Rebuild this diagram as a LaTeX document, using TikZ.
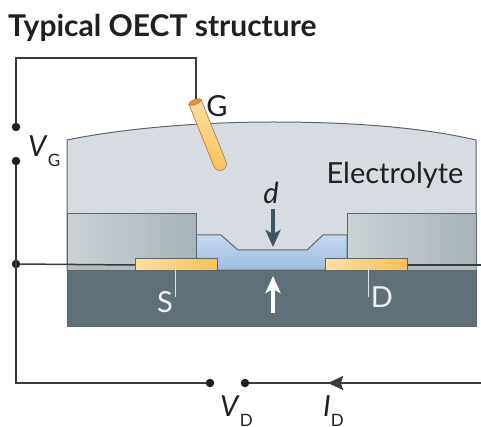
\documentclass[tikz,border=0pt]{standalone}
\usepackage{fontspec}
\setmainfont{Lato}
\usetikzlibrary{arrows.meta,calc}
\definecolor{ink}{HTML}{231f20}
\definecolor{wire}{HTML}{3a3b3d}
\definecolor{edge}{HTML}{5d666b}
\definecolor{elyte}{HTML}{d6dce2}
\definecolor{blockL}{HTML}{ccd3d7}
\definecolor{blockD}{HTML}{a7b3b9}
\definecolor{under}{HTML}{b4bbbf}
\definecolor{subst}{HTML}{5f7079}
\definecolor{chanT}{HTML}{c6d9ee}
\definecolor{chanB}{HTML}{9dbde0}
\definecolor{goldL}{HTML}{fde0a4}
\definecolor{goldD}{HTML}{fbc052}
\definecolor{goldE}{HTML}{e4924a}
\definecolor{tip}{HTML}{3f5560}
\tikzset{
  wireline/.style={draw=wire,line width=1.5pt},
  term/.style={circle,fill=ink,inner sep=0pt,minimum size=8.5pt},
  part/.style={draw=edge,line width=1pt},
  contact/.style={part,left color=goldL,right color=goldD},
  block/.style={part,shading angle=110,left color=blockL,right color=blockD},
  tick/.style={draw=white!80!subst,line width=1pt},
  lab/.style={font=\fontsize{29}{29}\selectfont,text=ink,inner sep=0pt},
  lightlab/.style={font=\fontsize{29}{29}\selectfont,text=white!90!subst,inner sep=0pt},
  bigarr/.style={-{Stealth[length=17pt,width=15pt,inset=4pt]},line width=4pt},
}
\newcommand{\sublab}[2]{\textit{#1}\raisebox{-10pt}{\fontsize{17}{17}\selectfont #2}}
\begin{document}
\begin{tikzpicture}[x=1pt,y=-1pt]
\useasboundingbox (0,0) rectangle (481,427);
\node[anchor=west,inner sep=0pt,font=\fontsize{30}{30}\selectfont\bfseries,text=ink] (title) at (8,28) {Typical OECT structure};
% layers
\draw[part,fill=elyte] (67,270) -- (67,140) .. controls (130,127) and (210,122) .. (272,122) .. controls (350,122) and (420,127) .. (476,140) -- (476,270) -- cycle;
\draw[part,top color=chanT,bottom color=chanB] (196,270) -- (196,235) -- (221,235) -- (238,250) -- (307,250) -- (323,235) -- (347,235) -- (347,270) -- cycle;
\fill[under] (67.5,264) rectangle (135,269.5);
\fill[under] (407,264) rectangle (475.5,269.5);
\draw[block] (67,264) -- (67,214) -- (196,214) -- (196,259) -- (135,259) -- (135,264) -- cycle;
\draw[block] (476,264) -- (476,214) -- (347,214) -- (347,259) -- (407,259) -- (407,264) -- cycle;
\draw[part,fill=subst] (67,270) rectangle (476,326);
% wires
\node[term] (vgA) at (16,127) {};
\node[term] (vgB) at (16,161) {};
\node[term] (mid) at (16,264) {};
\node[term] (vdA) at (210,383) {};
\node[term] (vdB) at (245,383) {};
\coordinate (corner) at (16,58);
\coordinate (rodT) at (195,102);
\coordinate (rodB) at (220,164);
\coordinate (gateIn) at (196,100);
\coordinate (outD) at (481,265);
\coordinate (outB) at (481,383);
\coordinate (srcL) at (135,265);
\coordinate (drnR) at (407,265);
\draw[wireline] (vgA) -- (corner) -| (gateIn);
\draw[wireline] (vgB) |- (vdA);
\draw[wireline] (vdB) -- (outB);
\draw[wireline] (mid) -- (srcL);
\draw[wireline] (drnR) -- (outD);
\draw[-{Stealth[length=15pt,width=14pt,inset=2pt]},line width=1.5pt,wire] (344,383) -- (328,383);
% source and drain
\draw[contact] (135,259) rectangle (217,270);
\draw[contact] (325,259) rectangle (407,270);
\draw[tick] (175.5,266) -- (175.5,297);
\draw[tick] (368,267) -- (368,297);
% gate rod
\draw[draw=goldE!70!edge,line width=0.8pt,left color=goldL,right color=goldD,shading angle=-22]
  ($(rodT)!6.5pt!90:(rodB)$) -- ($(rodB)!6.5pt!-90:(rodT)$) arc[start angle=22,end angle=-158,radius=6.5pt] -- ($(rodT)!6.5pt!-90:(rodB)$) -- cycle;
\draw[draw=goldE!70!edge,line width=0.8pt,fill=goldE,rotate around={22:(rodT)}] (rodT) ellipse (6.5pt and 2.4pt);
% thickness arrows
\draw[bigarr,tip] (273,209) -- (273,247);
\draw[bigarr,white] (273,313) -- (273,276);
% labels
\node[lab] (gLab) at (217,106) {G};
\node[lab] (dLab) at (271,193) {\textit{d}};
\node[lab] (eLab) at (395,175) {Electrolyte};
\node[lightlab] (sLab) at (165,302) {S};
\node[lightlab] (dnLab) at (382,297) {D};
\node[lab,anchor=base west] (vgLab) at (28,157) {\sublab{V}{G}};
\node[lab,anchor=base west] (vdLab) at (220,416) {\sublab{V}{D}};
\node[lab,anchor=base west] (idLab) at (323,416) {\sublab{I}{D}};
\end{tikzpicture}
\end{document}
